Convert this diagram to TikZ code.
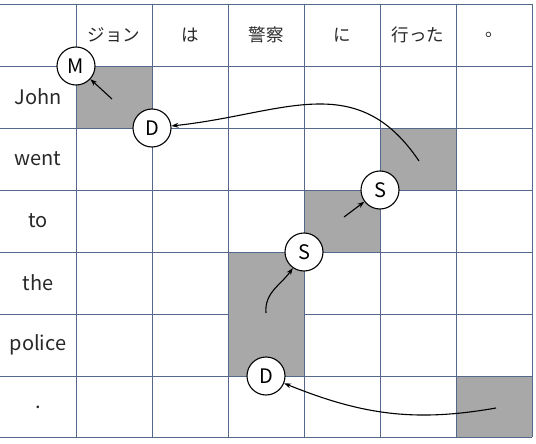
\documentclass[tikz,border=0pt]{standalone}
\usepackage{fontspec}
\setmainfont{Noto Sans CJK JP}
\definecolor{gridblue}{RGB}{84,104,140}
\definecolor{cellgray}{RGB}{168,168,168}
\definecolor{labelgray}{RGB}{40,40,40}
\usetikzlibrary{arrows.meta,positioning}

\begin{document}
\begin{tikzpicture}[x=1pt, y=-1pt,
  gridline/.style={draw=gridblue, line width=0.6pt},
  hit/.style={fill=cellgray},
  word/.style={font=\fontsize{17.5}{19}\selectfont, text=labelgray},
  enword/.style={word, font=\fontsize{20}{22}\selectfont},
  op/.style={circle, draw, line width=1.1pt, fill=white, minimum size=38pt, inner sep=0pt,
    font=\fontsize{20}{21}\selectfont},
  link/.style={-{Stealth[length=7pt,width=5pt]}, line width=1.1pt}]

\useasboundingbox (0,0) rectangle (536,444);

% Shaded cells
\fill[hit] (76,66) rectangle (152,128);
\fill[hit] (380,128) rectangle (456,190);
\fill[hit] (304,190) rectangle (380,252);
\fill[hit] (228,252) rectangle (304,376);
\fill[hit] (456,376) rectangle (532,437);

% Grid (the cell under 警察 spans two rows)
\foreach \x in {76,152,228,304,380,456,532}
  \draw[gridline] (\x,4) -- (\x,437);
\foreach \y in {4,66,128,190,252,376,437}
  \draw[gridline] (0,\y) -- (532,\y);
\draw[gridline] (0,314) -- (228,314) (304,314) -- (532,314);

% Japanese words
\node[word] (ja1) at (114,35) {ジョン};
\node[word] (ja2) at (190,35) {は};
\node[word] (ja3) at (266,35) {警察};
\node[word] (ja4) at (342,35) {に};
\node[word] (ja5) at (418,35) {行った};
\node[word] (ja6) at (494,35) {。};

% English words
\node[enword] (en1) at (38,97) {John};
\node[enword] (en2) at (38,159) {went};
\node[enword] (en3) at (38,221) {to};
\node[enword] (en4) at (38,283) {the};
\node[enword] (en5) at (38,345) {police};
\node[enword] (en6) at (38,407) {.};

% Operations
\node[op] (m) at (76,66) {M};
\node[op] (d1) at (152,128) {D};
\node[op] (s1) at (380,190) {S};
\node[op] (s2) at (304,252) {S};
\node[op] (d2) at (266,376) {D};

% Arrow starts
\coordinate (fromm) at (112,99);
\coordinate (fromd1) at (419,161);
\coordinate (froms1) at (344,217);
\coordinate (froms2) at (266,313);
\coordinate (fromd2) at (496,408);

% Arrows
\draw[link] (fromm) -- (m);
\draw[link] (fromd1) to[out=124, in=6, looseness=1.15] (d1);
\draw[link] (froms1) -- (s1);
\draw[link] (froms2) to[out=95, in=235] (s2);
\draw[link] (fromd2) to[out=190, in=-22] (d2);

\end{tikzpicture}
\end{document}
